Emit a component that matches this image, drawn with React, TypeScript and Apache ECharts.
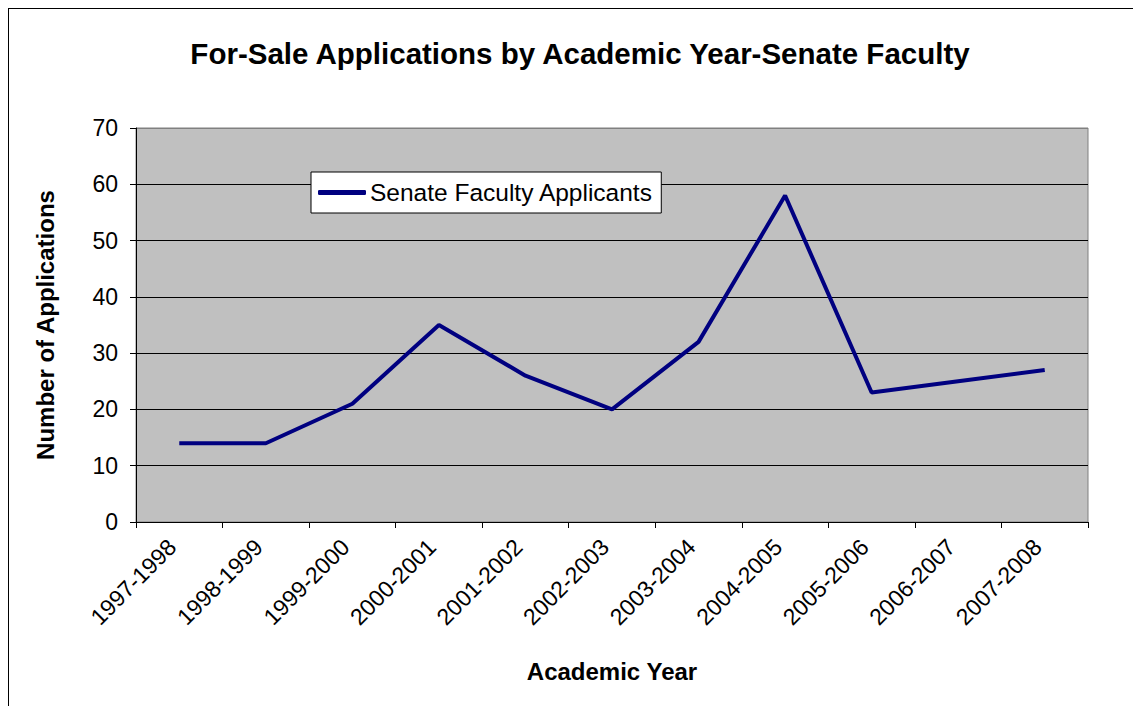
import React, { useEffect, useRef } from "react";
import * as echarts from "echarts";

const categories = [
  "1997-1998", "1998-1999", "1999-2000", "2000-2001", "2001-2002", "2002-2003",
  "2003-2004", "2004-2005", "2005-2006", "2006-2007", "2007-2008",
];
const applicants = [14, 14, 21, 35, 26, 20, 32, 58, 23, 25, 27];
const seriesName = "Senate Faculty Applicants";
const titleText = "For-Sale Applications by Academic Year-Senate Faculty";
const xAxisName = "Academic Year";
const yAxisName = "Number of Applications";

const FONT = "'Liberation Sans', Arial, sans-serif";

export default function App() {
  const ref = useRef<HTMLDivElement>(null);
  useEffect(() => {
    if (!ref.current) return;
    const chart = echarts.init(ref.current, null, { renderer: "svg" });
    chart.setOption({
      animation: false,
      backgroundColor: "#ffffff",
      textStyle: { fontFamily: FONT },
      title: {
        text: titleText,
        left: 575,
        top: 33,
        textAlign: "center",
        textStyle: { fontFamily: FONT, fontSize: 29.5, fontWeight: "bold", color: "#000" },
      },
      legend: {
        left: 311,
        top: 172,
        padding: [8, 8, 8, 7],
        backgroundColor: "#ffffff",
        borderColor: "#000",
        borderWidth: 1,
        borderRadius: 0,
        icon: "roundRect",
        itemWidth: 48,
        itemHeight: 5,
        itemGap: 6,
        textStyle: { fontFamily: FONT, fontSize: 24.5, color: "#000", padding: [0, 0, 0, -1] },
        itemStyle: { color: "#000080" },
        data: [seriesName],
      },
      grid: {
        left: 136,
        top: 128,
        right: 45,
        bottom: 184,
        show: true,
        backgroundColor: "#C0C0C0",
        borderColor: "#808080",
        borderWidth: 1,
      },
      xAxis: {
        type: "category",
        data: categories,
        boundaryGap: true,
        name: xAxisName,
        nameLocation: "middle",
        nameGap: 137,
        nameTextStyle: { fontFamily: FONT, fontSize: 24, fontWeight: "bold", color: "#000" },
        axisLine: { show: true, lineStyle: { color: "#000", width: 1 } },
        axisTick: { show: true, length: 6, inside: false, alignWithLabel: false, lineStyle: { color: "#000" } },
        axisLabel: {
          rotate: 45,
          margin: 14,
          padding: [0, 10, 0, 0],
          fontFamily: FONT,
          fontSize: 23,
          color: "#000",
          interval: 0,
        },
      },
      yAxis: {
        type: "value",
        min: 0,
        max: 70,
        interval: 10,
        name: yAxisName,
        nameLocation: "middle",
        nameGap: 79,
        nameTextStyle: { fontFamily: FONT, fontSize: 24, fontWeight: "bold", color: "#000" },
        axisLine: { show: true, lineStyle: { color: "#000", width: 1 } },
        axisTick: { show: true, length: 6, lineStyle: { color: "#000" } },
        axisLabel: { margin: 18, fontFamily: FONT, fontSize: 23, color: "#000" },
        splitLine: {
          show: true,
          lineStyle: {
            color: ["#000", "#000", "#000", "#000", "#000", "#000", "#000", "#808080"],
            width: 1,
          },
        },
      },
      series: [
        {
          name: seriesName,
          type: "line",
          data: applicants,
          symbol: "none",
          showSymbol: false,
          lineStyle: { color: "#000080", width: 4 },
          itemStyle: { color: "#000080" },
        },
      ],
      graphic: [
        { type: "line", shape: { x1: 8, y1: 8.5, x2: 1133, y2: 8.5 }, style: { stroke: "#000", lineWidth: 1 } },
        { type: "line", shape: { x1: 8.5, y1: 8, x2: 8.5, y2: 706 }, style: { stroke: "#000", lineWidth: 1 } },
      ],
    });
    return () => chart.dispose();
  }, []);
  return (
    <div
      ref={ref}
      style={{ position: "fixed", left: 0, top: 0, width: 1133, height: 706 }}
    />
  );
}
